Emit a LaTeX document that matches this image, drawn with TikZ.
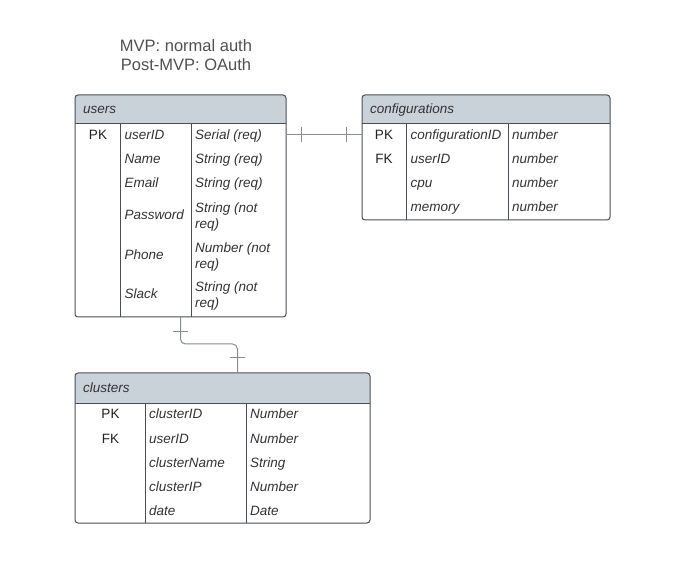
\documentclass[tikz,border=0pt]{standalone}
\usepackage{fontspec}
\setmainfont{Liberation Sans}
\usetikzlibrary{calc}
\definecolor{bord}{HTML}{4A4F55}
\definecolor{hdrc}{HTML}{C9D1D9}
\definecolor{txt}{HTML}{333333}
\definecolor{keyc}{HTML}{222222}
\definecolor{connc}{HTML}{868D93}
\definecolor{titlec}{HTML}{505050}
\tikzset{
  tbl/.style={draw=bord, line width=1pt, rounded corners=3pt, inner sep=0pt, outer sep=0pt, anchor=north west},
  hdrtxt/.style={anchor=west, font=\fontsize{13.5}{16}\selectfont\itshape, text=txt, inner sep=0pt, text height=12pt, text depth=2pt},
  keytxt/.style={anchor=center, font=\fontsize{13.5}{16}\selectfont, text=keyc, inner sep=0pt, text height=12pt, text depth=2pt},
  fld/.style={anchor=west, font=\fontsize{13.5}{16}\selectfont\itshape, text=txt, inner sep=0pt, text height=12pt, text depth=2pt},
  fld2/.style={anchor=west, font=\fontsize{13.5}{16}\selectfont\itshape, text=txt, inner sep=0pt, align=left, yshift=-2.5pt},
  sepline/.style={draw=bord, line width=1pt},
  conn/.style={draw=connc, line width=1pt},
  titletxt/.style={align=center, font=\fontsize{16.5}{18}\selectfont, text=titlec, inner sep=0pt},
}
\begin{document}
\begin{tikzpicture}[x=1pt,y=-1pt]
\useasboundingbox (0,0) rectangle (697,580);
\fill[white] (0,0) rectangle (697,580);

% title
\node[titletxt] (title) at (186,55) {MVP: normal auth\\[1pt]Post-MVP: OAuth};

% ---------- users ----------
\begin{scope}
  \clip[rounded corners=3pt] (75,95) rectangle (286,317);
  \fill[hdrc] (75,95) rectangle (286,124);
\end{scope}
\node[tbl, minimum width=211pt, minimum height=222pt] (users) at (75,95) {};
\draw[sepline] (75,124) -- (286,124);
\draw[sepline] (120.5,124) -- (120.5,317);
\draw[sepline] (191.5,124) -- (191.5,317);
\node[hdrtxt] (usersh) at (83,109) {users};
\node[keytxt] (upk) at (98,135) {PK};
\node[fld] (u1) at (124.5,135) {userID};
\node[fld] (u1t) at (195,135) {Serial (req)};
\node[fld] (u2) at (124.5,159) {Name};
\node[fld] (u2t) at (195,159) {String (req)};
\node[fld] (u3) at (124.5,183) {Email};
\node[fld] (u3t) at (195,183) {String (req)};
\node[fld] (u4) at (124.5,215) {Password};
\node[fld2] (u4t) at (195,215) {String (not\\req)};
\node[fld] (u5) at (124.5,255) {Phone};
\node[fld2] (u5t) at (195,255) {Number (not\\req)};
\node[fld] (u6) at (124.5,294) {Slack};
\node[fld2] (u6t) at (195,294) {String (not\\req)};

% ---------- configurations ----------
\begin{scope}
  \clip[rounded corners=3pt] (362,95) rectangle (610,220);
  \fill[hdrc] (362,95) rectangle (610,124);
\end{scope}
\node[tbl, minimum width=248pt, minimum height=125pt] (conf) at (362,95) {};
\draw[sepline] (362,124) -- (610,124);
\draw[sepline] (406,124) -- (406,220);
\draw[sepline] (508,124) -- (508,220);
\node[hdrtxt] (confh) at (370,109) {configurations};
\node[keytxt] (cpk) at (384,135) {PK};
\node[keytxt] (cfk) at (384,159) {FK};
\node[fld] (c1) at (410.5,135) {configurationID};
\node[fld] (c1t) at (512,135) {number};
\node[fld] (c2) at (410.5,159) {userID};
\node[fld] (c2t) at (512,159) {number};
\node[fld] (c3) at (410.5,183) {cpu};
\node[fld] (c3t) at (512,183) {number};
\node[fld] (c4) at (410.5,207) {memory};
\node[fld] (c4t) at (512,207) {number};

% ---------- clusters ----------
\begin{scope}
  \clip[rounded corners=3pt] (75,373) rectangle (370,523);
  \fill[hdrc] (75,373) rectangle (370,404);
\end{scope}
\node[tbl, minimum width=295pt, minimum height=150pt] (clus) at (75,373) {};
\draw[sepline] (75,404) -- (370,404);
\draw[sepline] (145,404) -- (145,523);
\draw[sepline] (246,404) -- (246,523);
\node[hdrtxt] (clush) at (83,388) {clusters};
\node[keytxt] (kpk) at (110.5,414) {PK};
\node[keytxt] (kfk) at (110.5,438) {FK};
\node[fld] (k1) at (149,414) {clusterID};
\node[fld] (k1t) at (250,414) {Number};
\node[fld] (k2) at (149,438) {userID};
\node[fld] (k2t) at (250,438) {Number};
\node[fld] (k3) at (149,462) {clusterName};
\node[fld] (k3t) at (250,462) {String};
\node[fld] (k4) at (149,486) {clusterIP};
\node[fld] (k4t) at (250,486) {Number};
\node[fld] (k5) at (149,510) {date};
\node[fld] (k5t) at (250,510) {Date};

% ---------- connectors ----------
\coordinate (ua) at (users.east |- upk);
\coordinate (cb) at (conf.west |- upk);
\draw[conn] (ua) -- (cb);
\draw[conn] ($(ua)+(15,-7.5)$) -- ++(0,15);
\draw[conn] ($(cb)+(-16,-7.5)$) -- ++(0,15);

\coordinate (us) at (users.south);
\coordinate (cn) at ($(clus.north)+(15,0)$);
\draw[conn, rounded corners=5pt] (us) -- ($(us)+(0,27)$) -| (cn);
\draw[conn] ($(us)+(-7.5,15)$) -- ++(15,0);
\draw[conn] ($(cn)+(-7.5,-15)$) -- ++(15,0);
\end{tikzpicture}
\end{document}
